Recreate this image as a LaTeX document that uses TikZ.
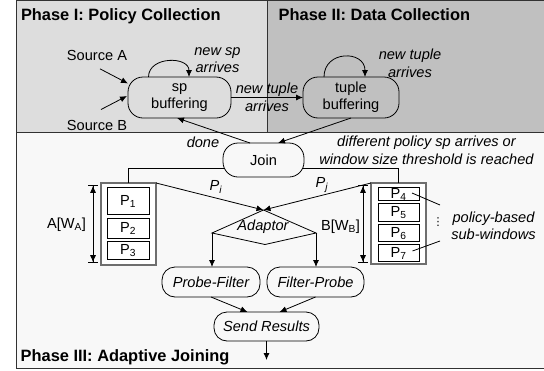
\documentclass[tikz,border=0pt]{standalone}
\usepackage{fontspec}
\setmainfont{Liberation Sans}
\newfontfamily\symfont{DejaVu Sans}
\usetikzlibrary{arrows.meta,calc}
\definecolor{phaseone}{RGB}{221,221,221}
\definecolor{phasetwo}{RGB}{192,192,192}
\definecolor{phasethree}{RGB}{248,248,248}
\definecolor{framecol}{RGB}{50,50,50}
\definecolor{winborder}{RGB}{110,110,110}
\begin{document}
\begin{tikzpicture}[x=1pt,y=-1pt,
  every node/.style={inner sep=0pt,outer sep=0pt},
  txt/.style={font=\fontsize{14.6}{17.5}\selectfont},
  itxt/.style={font=\fontsize{14.6}{17.5}\selectfont\itshape},
  phasetitle/.style={font=\fontsize{16.4}{19}\selectfont\bfseries,anchor=base west},
  state/.style={draw,line width=0.8pt,rounded corners=15pt,align=center,
    font=\fontsize{14.6}{17}\selectfont},
  istate/.style={state,rounded corners=13pt,font=\fontsize{14.6}{17}\selectfont\itshape},
  window/.style={draw=winborder,line width=1.6pt,fill=white,minimum width=55pt},
  pbox/.style={draw,line width=0.8pt,fill=white,minimum width=42pt,
    font=\fontsize{14.6}{17}\selectfont},
  ln/.style={line width=0.8pt},
  arr/.style={line width=0.8pt,-{Latex[length=7pt,width=6pt]}},
  dimarr/.style={line width=0.8pt,
    {Bar[width=10pt]Latex[length=7pt,width=6pt]}-{Latex[length=7pt,width=6pt]Bar[width=10pt]}}
]
\useasboundingbox (0,0) rectangle (544,370);

% phase backgrounds and frame
\fill[phaseone] (16,0) rectangle (267,132);
\fill[phasetwo] (267,0) rectangle (544,132);
\fill[phasethree] (16,132) rectangle (544,368);
\draw[framecol,line width=1.2pt] (16.5,0.6) -- (544,0.6);
\draw[framecol,line width=1.2pt] (16.5,0) -- (16.5,368.5) -- (544,368.5);
\draw[framecol,line width=1pt] (16.5,132) -- (544,132);
\draw[framecol,line width=1pt] (267,0) -- (267,132);

\node[phasetitle] at (21,20) {Phase I: Policy Collection};
\node[phasetitle] at (278.7,20) {Phase II: Data Collection};
\node[phasetitle] at (20.7,361) {Phase III: Adaptive Joining};

% phase I / II states
\node[state,minimum width=103pt,minimum height=41pt] (sp) at (179.5,97.5) {sp\\buffering};
\node[state,minimum width=96pt,minimum height=41pt] (tuple) at (351,97.5) {tuple\\buffering};

\node[txt,anchor=base] (srcA) at (97,60.7) {Source A};
\node[txt,anchor=base] (srcB) at (97,130.7) {Source B};
\draw[arr] ($(srcA.south)+(3,8)$) -- ($(sp.west)+(0,-14)$);
\draw[arr] ($(srcB.north)+(4,-11)$) -- ($(sp.west)+(-1,-1.5)$);

\draw[arr] ($(sp.north)+(-31,0)$) .. controls ($(sp.north)+(-31,-21)$) and ($(sp.north)+(9.5,-21)$) .. ($(sp.north)+(9.5,0)$);
\node[itxt,align=center] (lblsp) at (217.5,60) {new sp\\arrives};

\draw[arr] ($(tuple.north)+(-27,0)$) .. controls ($(tuple.north)+(-27,-27)$) and ($(tuple.north)+(14,-27)$) .. ($(tuple.north)+(14,0)$);
\node[itxt,align=center] (lbltp) at (410,63.5) {new tuple\\arrives};

\draw[arr] (sp.east) -- (tuple.west)
  node[midway,itxt,align=center] (lblmove) {new tuple\\arrives};

% phase III
\node[state,minimum width=81pt,minimum height=34pt] (join) at (263.5,160) {Join};
\draw[arr] (tuple.south) -- ($(join.north)+(14.5,0)$);
\draw[arr] ($(join.north)+(-13.5,0)$) -- ($(sp.south)+(-2.5,0)$);
\node[itxt] (lbldone) at (203,142) {done};
\node[itxt,align=center] (lbldiff) at (426.5,150.5) {different policy sp arrives or\\window size threshold is reached};

% sliding windows
\node[window,minimum height=82pt] (boxA) at (128.5,224) {};
\node[window,minimum height=81pt] (boxB) at (398.5,223.5) {};

\node[pbox,minimum height=27pt] (p1) at (128,200.5) {\raisebox{-4.5pt}[0pt][0pt]{P\textsubscript{1}}};
\node[pbox,minimum height=20pt] (p2) at (128,228) {\raisebox{-4.5pt}[0pt][0pt]{P\textsubscript{2}}};
\node[pbox,minimum height=18pt] (p3) at (128,250) {\raisebox{-4.5pt}[0pt][0pt]{P\textsubscript{3}}};
\node[pbox,minimum width=41pt,minimum height=13pt] (p4) at (398.5,193.5) {\raisebox{-4.5pt}[0pt][0pt]{P\textsubscript{4}}};
\node[pbox,minimum width=41pt,minimum height=18pt] (p5) at (398.5,212) {\raisebox{-4.5pt}[0pt][0pt]{P\textsubscript{5}}};
\node[pbox,minimum width=41pt,minimum height=17pt] (p6) at (398.5,232.5) {\raisebox{-4.5pt}[0pt][0pt]{P\textsubscript{6}}};
\node[pbox,minimum width=41pt,minimum height=17pt] (p7) at (398.5,252.5) {\raisebox{-4.5pt}[0pt][0pt]{P\textsubscript{7}}};

\draw[ln] ($(join.west)+(1,8)$) -| (boxA.north);
\draw[ln] ($(join.east)+(-1,8)$) -| (boxB.north);

\draw[dimarr] ($(boxA.north west)+(-8,2)$) -- ($(boxA.south west)+(-8,-2)$);
\draw[dimarr] ($(boxB.north west)+(-8,2)$) -- ($(boxB.south west)+(-8,-1)$);
\node[txt] (lblA) at (66.5,225) {A[W\textsubscript{A}]};
\node[txt] (lblB) at (340.5,226.5) {B[W\textsubscript{B}]};

% policy-based sub-window callout
\node[itxt,align=center] (lblsub) at (493.5,226) {policy-based\\sub-windows};
\node[font=\fontsize{11}{11}\selectfont\symfont] (dots) at (438,222.5) {⋮};
\coordinate (c4) at (440,205);
\coordinate (c7) at (440,241);
\draw[ln] ($(p4.center)+(13.5,-0.5)$) -- (c4);
\draw[ln] ($(p7.center)+(14,-1.5)$) -- (c7);

% adaptor
\coordinate (aT) at (263.5,210);
\coordinate (aR) at (316,233);
\coordinate (aB) at (265,244.5);
\coordinate (aL) at (212,233);
\draw[ln] (aT) -- (aR) -- (aB) -- (aL) -- cycle;
\node[itxt] (adaptor) at (263,227) {Adaptor};

\draw[arr] (boxA.north east) -- (aT);
\draw[arr] (boxB.north west) -- (aT);
\node[itxt] (lblpi) at (216,187) {P\textsubscript{i}};
\node[itxt] (lblpj) at (322,185) {P\textsubscript{j}};

\node[istate,minimum width=98pt,minimum height=30pt] (pf) at (211,282) {Probe-Filter};
\node[istate,minimum width=97pt,minimum height=30pt] (fp) at (315.5,282) {Filter-Probe};
\node[istate,minimum width=105pt,minimum height=29pt] (sr) at (266.5,326.5) {Send Results};

\draw[arr] (aL) -- (aL |- pf.north);
\draw[arr] (aR) -- (aR |- fp.north);
\draw[arr] (pf.south) -- ($(sr.north)+(-19,0)$);
\draw[arr] (fp.south) -- ($(sr.north)+(13,0)$);
\coordinate (out) at (266.5,360);
\draw[arr] (sr.south) -- (out);
\end{tikzpicture}
\end{document}
